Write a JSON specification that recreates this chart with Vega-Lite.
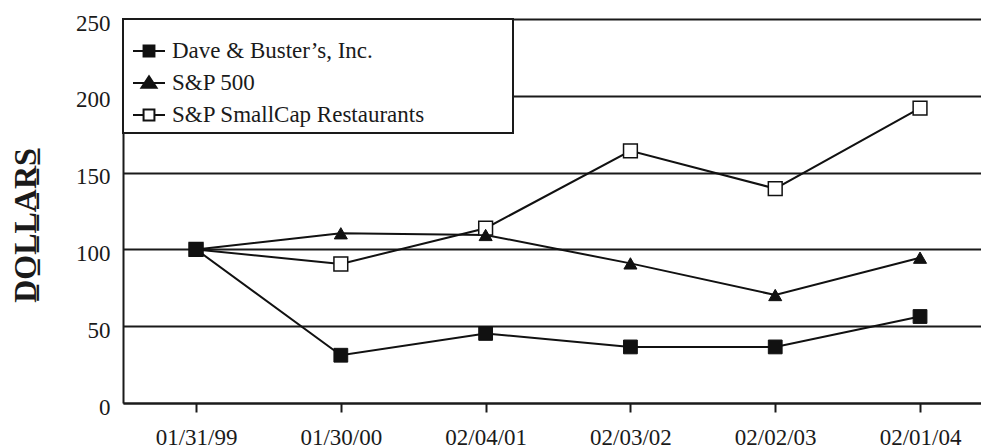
{
  "$schema": "https://vega.github.io/schema/vega-lite/v6.json",
  "width": 858,
  "height": 384,
  "autosize": "none",
  "padding": {"left": 123, "top": 19, "right": 0, "bottom": 45},
  "background": "white",
  "config": {"view": {"stroke": null}, "font": "Liberation Serif", "legend": {"strokeWidth": 2}},
  "data": {
    "values": [
      {"series": "Dave & Buster’s, Inc.", "date": "01/31/99", "value": 100},
      {"series": "Dave & Buster’s, Inc.", "date": "01/30/00", "value": 31.1},
      {"series": "Dave & Buster’s, Inc.", "date": "02/04/01", "value": 45.3},
      {"series": "Dave & Buster’s, Inc.", "date": "02/03/02", "value": 36.5},
      {"series": "Dave & Buster’s, Inc.", "date": "02/02/03", "value": 36.5},
      {"series": "Dave & Buster’s, Inc.", "date": "02/01/04", "value": 56.3},
      {"series": "S&P 500", "date": "01/31/99", "value": 100},
      {"series": "S&P 500", "date": "01/30/00", "value": 110.5},
      {"series": "S&P 500", "date": "02/04/01", "value": 109.4},
      {"series": "S&P 500", "date": "02/03/02", "value": 90.9},
      {"series": "S&P 500", "date": "02/02/03", "value": 70.3},
      {"series": "S&P 500", "date": "02/01/04", "value": 94.6},
      {"series": "S&P SmallCap Restaurants", "date": "01/31/99", "value": 100},
      {"series": "S&P SmallCap Restaurants", "date": "01/30/00", "value": 90.5},
      {"series": "S&P SmallCap Restaurants", "date": "02/04/01", "value": 113.8},
      {"series": "S&P SmallCap Restaurants", "date": "02/03/02", "value": 164.2},
      {"series": "S&P SmallCap Restaurants", "date": "02/02/03", "value": 139.6},
      {"series": "S&P SmallCap Restaurants", "date": "02/01/04", "value": 192}
    ]
  },
  "encoding": {
    "x": {
      "field": "date", "type": "ordinal", "sort": null,
      "scale": {"type": "point", "padding": 0.4627, "align": 0.545},
      "axis": {
        "title": null, "labelAngle": 0, "grid": false,
        "domainColor": "#1a1a1a", "domainWidth": 2,
        "tickColor": "#1a1a1a", "tickWidth": 2, "tickSize": 9,
        "labelFont": "Liberation Serif", "labelFontSize": 23, "labelColor": "#1a1a1a",
        "labelPadding": 14
      }
    },
    "y": {
      "field": "value", "type": "quantitative",
      "scale": {"domain": [0, 250], "nice": false},
      "axis": {
        "values": [0, 50, 100, 150, 200, 250],
        "ticks": false, "tickSize": 0,
        "grid": true, "gridColor": "#1a1a1a", "gridWidth": 2,
        "domainColor": "#1a1a1a", "domainWidth": 2,
        "labelFont": "Liberation Serif", "labelFontSize": 23, "labelColor": "#1a1a1a",
        "labelPadding": 13, "labelBaseline": "middle", "labelOffset": 4,
        "title": "D\u0332O\u0332L\u0332L\u0332A\u0332R\u0332S\u0332",
        "titleFont": "Liberation Serif", "titleFontSize": 32, "titleFontWeight": "bold",
        "titleColor": "#1a1a1a",
        "titleAngle": 270, "titleX": -88, "titleY": 206,
        "titleBaseline": "alphabetic", "titleAlign": "center"
      }
    }
  },
  "layer": [
    {
      "mark": {"type": "line", "color": "#111", "strokeWidth": 2},
      "encoding": {"detail": {"field": "series"}}
    },
    {
      "transform": [{"filter": {"field": "series", "equal": "S&P SmallCap Restaurants"}}],
      "mark": {"type": "point", "shape": "square", "filled": true, "fill": "white", "stroke": "#111", "strokeWidth": 1.5, "size": 190, "opacity": 1}
    },
    {
      "transform": [{"filter": {"field": "series", "equal": "S&P 500"}}],
      "mark": {"type": "point", "shape": "triangle-up", "filled": true, "fill": "#111", "stroke": "#111", "strokeWidth": 1, "size": 170, "opacity": 1}
    },
    {
      "transform": [{"filter": {"field": "series", "equal": "Dave & Buster’s, Inc."}}],
      "mark": {"type": "point", "shape": "square", "filled": true, "fill": "#111", "stroke": "#111", "strokeWidth": 1, "size": 190, "opacity": 1}
    },
    {
      "mark": {"type": "point", "filled": true, "size": 0, "strokeWidth": 2, "opacity": 1},
      "encoding": {
        "shape": {
          "field": "series", "type": "nominal",
          "scale": {
            "domain": ["Dave & Buster’s, Inc.", "S&P 500", "S&P SmallCap Restaurants"],
            "range": [
              "M-1,0H-0.34M0.34,0H1M-0.34,-0.34H0.34V0.34H-0.34Z",
              "M-1,0H1M0,-0.42L0.47,0.3H-0.47Z",
              "M-1,0H-0.34M0.34,0H1M-0.34,-0.34H0.34V0.34H-0.34Z"
            ]
          },
          "legend": {
            "orient": "none", "legendX": 0, "legendY": 0,
            "title": "———————————————————————————————————————————————————————————————",
            "titleColor": "white", "titleFontSize": 6, "titlePadding": 3, "titleLimit": 2000,
            "strokeColor": "#1a1a1a", "fillColor": "white", "padding": 6,
            "symbolSize": 1024, "symbolStrokeWidth": 2, "symbolOffset": 3,
            "labelOffset": 6, "labelFont": "Liberation Serif", "labelFontSize": 23, "labelColor": "#1a1a1a",
            "rowPadding": 3, "labelLimit": 400
          }
        },
        "fill": {
          "field": "series", "type": "nominal",
          "scale": {
            "domain": ["Dave & Buster’s, Inc.", "S&P 500", "S&P SmallCap Restaurants"],
            "range": ["#111", "#111", "white"]
          },
          "legend": {
            "orient": "none", "legendX": 0, "legendY": 0,
            "title": "———————————————————————————————————————————————————————————————",
            "titleColor": "white", "titleFontSize": 6, "titlePadding": 3, "titleLimit": 2000,
            "strokeColor": "#1a1a1a", "fillColor": "white", "padding": 6,
            "symbolSize": 1024, "symbolStrokeWidth": 2, "symbolOffset": 3,
            "labelOffset": 6, "labelFont": "Liberation Serif", "labelFontSize": 23, "labelColor": "#1a1a1a",
            "rowPadding": 3, "labelLimit": 400
          }
        },
        "stroke": {
          "field": "series", "type": "nominal",
          "scale": {
            "domain": ["Dave & Buster’s, Inc.", "S&P 500", "S&P SmallCap Restaurants"],
            "range": ["#111", "#111", "#111"]
          },
          "legend": {
            "orient": "none", "legendX": 0, "legendY": 0,
            "title": "———————————————————————————————————————————————————————————————",
            "titleColor": "white", "titleFontSize": 6, "titlePadding": 3, "titleLimit": 2000,
            "strokeColor": "#1a1a1a", "fillColor": "white", "padding": 6,
            "symbolSize": 1024, "symbolStrokeWidth": 2, "symbolOffset": 3,
            "labelOffset": 6, "labelFont": "Liberation Serif", "labelFontSize": 23, "labelColor": "#1a1a1a",
            "rowPadding": 3, "labelLimit": 400
          }
        }
      }
    }
  ]
}
